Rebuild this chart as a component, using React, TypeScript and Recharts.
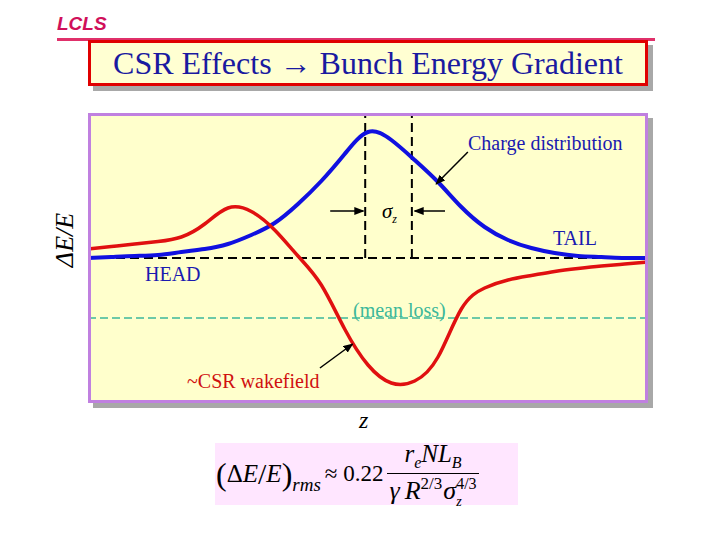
import React from "react";
import { ComposedChart, Line, XAxis, YAxis, ReferenceLine } from "recharts";

// position along the bunch, in units of sigma_z (0 = left sigma line)
const zValues = [-6, -5.5, -5, -4.5, -4, -3.5, -3, -2.5, -2, -1.5, -1, -0.5, 0, 0.5, 1, 1.5, 2, 2.5, 3, 3.5, 4, 4.5, 5, 5.5, 6];
const chargeDist = [0, 0.1, 0.2, 0.3, 0.6, 0.9, 1.4, 2.3, 3.5, 5.4, 7.7, 10.4, 12.6, 11.8, 9.8, 7.6, 5.1, 3.1, 1.8, 1.0, 0.5, 0.2, 0.1, 0, 0];
const csrWake = [0.9, 1.15, 1.4, 1.65, 2.1, 3.4, 5.0, 4.65, 2.8, 0.2, -2.7, -7.1, -10.7, -12.5, -12.3, -9.9, -5.1, -3.0, -2.2, -1.75, -1.35, -1.05, -0.8, -0.6, -0.4];
const meanLoss = -6;
const sigmaLines = [0, 1];

const data = zValues.map((z, i) => ({ z, charge: chargeDist[i], wake: csrWake[i] }));

const SERIF = "'Liberation Serif', 'Times New Roman', serif";

const Arrow = (p: any) => (
  <line x1={p.x1} y1={p.y1} x2={p.x2} y2={p.y2} stroke="#000" strokeWidth={1.5} markerEnd="url(#ah)" />
);

const txt = (left: number, top: number, color: string, size = 20, extra: any = {}): React.CSSProperties => ({
  position: "absolute", left, top, color, fontFamily: SERIF, fontSize: size, whiteSpace: "nowrap", lineHeight: 1, ...extra,
});

export default function App() {
  return (
    <div style={{ position: "absolute", left: 0, top: 0, width: 720, height: 540, background: "#fff", overflow: "hidden" }}>
      <svg width="0" height="0" style={{ position: "absolute" }}>
        <defs>
          <marker id="ah" markerWidth="10" markerHeight="8" refX="9" refY="4" orient="auto" markerUnits="userSpaceOnUse">
            <path d="M0,0 L10,4 L0,8 z" fill="#000" />
          </marker>
        </defs>
      </svg>

      {/* header */}
      <div style={{ position: "absolute", left: 57, top: 14, fontFamily: "'Liberation Sans', Arial, sans-serif", fontWeight: "bold", fontStyle: "italic", fontSize: 19, lineHeight: 1, color: "#D0105A" }}>LCLS</div>
      <div style={{ position: "absolute", left: 57, top: 38, width: 598, height: 3, background: "#E0306A" }} />
      <div style={{ position: "absolute", left: 93, top: 45, width: 560, height: 46, background: "#A8A8A8" }} />
      <div style={{ position: "absolute", left: 88, top: 40, width: 554, height: 40, background: "#FFFFD2", border: "3px solid #E00000", display: "flex", alignItems: "center", justifyContent: "center" }}>
        <span style={{ fontFamily: SERIF, fontSize: 32, color: "#1A1AA0" }}>CSR Effects → Bunch Energy Gradient</span>
      </div>

      {/* plot frame */}
      <div style={{ position: "absolute", left: 93, top: 118, width: 560, height: 290, background: "#A8A8A8" }} />
      <div style={{ position: "absolute", left: 88, top: 113, width: 560, height: 290, background: "#FFFFCC" }} />
      <div style={{ position: "absolute", left: 88, top: 113 }}>
        <ComposedChart width={560} height={290} data={data} margin={{ top: 0, right: 0, bottom: 0, left: 0 }}>
          <XAxis dataKey="z" type="number" domain={[-6, 6]} hide />
          <YAxis type="number" domain={[-14.5, 14.5]} hide />
          <ReferenceLine y={0} stroke="#000" strokeWidth={2} strokeDasharray="9 5" />
          {sigmaLines.map((s) => (
            <ReferenceLine key={s} segment={[{ x: s - 0.06, y: 0 }, { x: s - 0.06, y: 14.5 }]} stroke="#000" strokeWidth={2} strokeDasharray="9 5" />
          ))}
          <ReferenceLine y={meanLoss} stroke="#3CB89A" strokeWidth={1.5} strokeDasharray="8 4" />
          <Line dataKey="charge" type="natural" stroke="#1010E0" strokeWidth={4} dot={false} isAnimationActive={false} />
          <Line dataKey="wake" type="natural" stroke="#E01010" strokeWidth={3.5} dot={false} isAnimationActive={false} />
          <ReferenceLine segment={[{ x: 2.14, y: 10.6 }, { x: 1.46, y: 7.4 }]} shape={Arrow} />
          <ReferenceLine segment={[{ x: -0.81, y: 4.7 }, { x: -0.1, y: 4.7 }]} shape={Arrow} />
          <ReferenceLine segment={[{ x: 1.65, y: 4.7 }, { x: 1.0, y: 4.7 }]} shape={Arrow} />
          <ReferenceLine segment={[{ x: -1.03, y: -11 }, { x: -0.33, y: -8.6 }]} shape={Arrow} />
        </ComposedChart>
      </div>
      <div style={{ position: "absolute", left: 88, top: 113, width: 554, height: 284, border: "3px solid #C080E0", pointerEvents: "none" }} />

      {/* annotations */}
      <div style={txt(468, 133, "#1A1AB0")}>Charge distribution</div>
      <div style={txt(382, 201, "#000", 21, { fontStyle: "italic" })}>σ<sub style={{ fontSize: 12 }}>z</sub></div>
      <div style={txt(553, 228, "#1A1AB0")}>TAIL</div>
      <div style={txt(145, 264, "#1A1AB0")}>HEAD</div>
      <div style={txt(353, 300, "#3CB89A")}>(mean loss)</div>
      <div style={txt(187, 371, "#D01010")}>~CSR wakefield</div>

      {/* axis labels */}
      <div style={{ ...txt(65, 240, "#000", 26, { fontStyle: "italic" }), transform: "translate(-50%, -50%) rotate(-90deg)" }}>ΔE/E</div>
      <div style={txt(359, 408, "#000", 24, { fontStyle: "italic" })}>z</div>

      {/* formula */}
      <div style={{ position: "absolute", left: 215, top: 443, width: 303, height: 62, background: "#FFE6FF", display: "flex", alignItems: "center", fontFamily: SERIF, fontSize: 25, color: "#000" }}>
        <span style={{ marginLeft: 1, fontSize: 32 }}>(</span>
        <span>Δ</span>
        <span style={{ fontStyle: "italic" }}>E</span>
        <span style={{ fontSize: 30 }}>/</span>
        <span style={{ fontStyle: "italic" }}>E</span>
        <span style={{ fontSize: 32 }}>)</span>
        <span style={{ fontStyle: "italic", fontSize: 19, alignSelf: "flex-end", marginBottom: 9 }}>rms</span>
        <span style={{ marginLeft: 4, fontSize: 23 }}>≈ 0.22</span>
        <div style={{ display: "flex", flexDirection: "column", alignItems: "center", marginLeft: 4 }}>
          <div style={{ fontStyle: "italic", fontSize: 25, paddingBottom: 1 }}>r<sub style={{ fontSize: 16 }}>e</sub>NL<sub style={{ fontSize: 16 }}>B</sub></div>
          <div style={{ borderTop: "1px solid #000", fontStyle: "italic", fontSize: 26, padding: "0 2px", display: "flex", alignItems: "center", lineHeight: 1 }}>
            <span>γ</span>
            <span style={{ marginLeft: 5 }}>R</span>
            <span style={{ fontSize: 17, fontStyle: "normal", alignSelf: "flex-start", marginTop: 1 }}>2/3</span>
            <span style={{ marginLeft: 1 }}>σ</span>
            <span style={{ display: "inline-flex", flexDirection: "column", fontSize: 14, lineHeight: 1, gap: 3, marginTop: 2 }}>
              <span style={{ fontStyle: "normal", fontSize: 16 }}>4/3</span>
              <span>z</span>
            </span>
          </div>
        </div>
      </div>
    </div>
  );
}
